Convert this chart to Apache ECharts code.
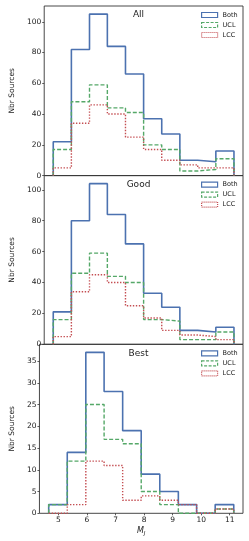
<!DOCTYPE html>
<html>
<head>
<meta charset="utf-8">
<script src="https://cdn.jsdelivr.net/npm/echarts@6/dist/echarts.min.js"></script>
<style>
html,body{margin:0;padding:0;background:#fff;}
#c{width:249px;height:541px;}
</style>
</head>
<body>
<div id="c"></div>
<script>
// Bin edges (M_J) and counts
var binEdges = [4.66, 5.31, 5.96, 6.60, 7.25, 7.90, 8.55, 9.20, 9.84, 10.49, 11.14];

var panelTitles = ['All', 'Good', 'Best'];
var seriesNames = ['Both', 'UCL', 'LCC'];

var allBoth = [22, 82, 105, 84, 66, 37, 27, 10, 9, 16];
var allUCL  = [17, 48, 59, 44, 41, 20, 17, 3, 4, 11];
var allLCC  = [5, 34, 46, 40, 25, 17, 10, 7, 5, 5];

var goodBoth = [21, 80, 104, 84, 65, 33, 24, 9, 8, 11];
var goodUCL  = [16, 46, 59, 44, 40, 16, 15, 3, 3, 8];
var goodLCC  = [5, 34, 45, 40, 25, 17, 9, 6, 5, 3];

var bestBoth = [2, 14, 37, 28, 19, 9, 5, 2, 0, 2];
var bestUCL  = [2, 12, 25, 17, 16, 5, 2, 0, 0, 1];
var bestLCC  = [0, 2, 12, 11, 3, 4, 3, 2, 0, 1];

var yTicksCount = [0, 20, 40, 60, 80, 100];
var yTicksBest = [0, 5, 10, 15, 20, 25, 30, 35];
var xTicks = [5, 6, 7, 8, 9, 10, 11];

var panelData = [
  [allBoth, allUCL, allLCC],
  [goodBoth, goodUCL, goodLCC],
  [bestBoth, bestUCL, bestLCC]
];
var panelYTicks = [yTicksCount, yTicksCount, yTicksBest];
var panelYMax = [110.25, 109.2, 38.85];

var colors = ['#4c72b0', '#55a868', '#c44e52'];
var lineTypes = ['solid', [4, 2], [1.4, 1.6]];
var FONT = 'DejaVu Sans';
var TXT = '#222';

var gridTops = [6, 175.6, 344.3];
var gridHeights = [169.6, 168.7, 169.0];
var gridLeft = 34, gridRight = 6;
var panelCenterX = gridLeft + (249 - gridLeft - gridRight) / 2;

function stepPath(edges, counts) {
  var pts = [[edges[0], 0]];
  for (var i = 0; i < counts.length; i++) {
    pts.push([edges[i], counts[i]]);
    pts.push([edges[i + 1], counts[i]]);
  }
  pts.push([edges[edges.length - 1], 0]);
  return pts;
}

var grids = [], xAxes = [], yAxes = [], series = [], legends = [], graphics = [];
var xMin = binEdges[0] - 0.05 * (binEdges[10] - binEdges[0]);
var xMax = binEdges[10] + 0.05 * (binEdges[10] - binEdges[0]);

for (var p = 0; p < 3; p++) {
  grids.push({
    left: gridLeft, right: gridRight, top: gridTops[p], height: gridHeights[p],
    show: true, borderColor: '#333', borderWidth: 0.9, backgroundColor: 'transparent'
  });
  var isBottom = p === 2;
  xAxes.push({
    type: 'value', gridIndex: p, min: xMin, max: xMax,
    axisLine: {show: false},
    splitLine: {show: false},
    axisTick: {show: isBottom, length: 2, lineStyle: {color: '#333', width: 0.8}, customValues: xTicks},
    axisLabel: {show: isBottom, customValues: xTicks, fontSize: 7.5, fontFamily: FONT, color: TXT, margin: 3},
    name: isBottom ? '{i|M}{s|J}' : '',
    nameLocation: 'middle', nameGap: 13,
    nameTextStyle: {
      color: TXT, fontFamily: FONT,
      rich: {
        i: {fontStyle: 'italic', fontSize: 8, fontFamily: FONT, color: TXT},
        s: {fontStyle: 'italic', fontSize: 5.5, fontFamily: FONT, color: TXT, padding: [4, 0, 0, 0]}
      }
    }
  });
  yAxes.push({
    type: 'value', gridIndex: p, min: 0, max: panelYMax[p],
    axisLine: {show: false},
    splitLine: {show: false},
    axisTick: {show: true, length: 2, lineStyle: {color: '#333', width: 0.8}, customValues: panelYTicks[p]},
    axisLabel: {customValues: panelYTicks[p], fontSize: 7.5, fontFamily: FONT, color: TXT, margin: 3},
    name: 'Nbr Sources', nameLocation: 'middle', nameGap: 22, nameRotate: 90,
    nameTextStyle: {fontSize: 7.5, fontFamily: FONT, color: TXT}
  });
  for (var s = 0; s < 3; s++) {
    series.push({
      type: 'line', name: seriesNames[s], xAxisIndex: p, yAxisIndex: p,
      data: stepPath(binEdges, panelData[p][s]),
      showSymbol: false, symbol: 'none', animation: false,
      lineStyle: {color: colors[s], width: s === 0 ? 1.6 : 1.4, type: lineTypes[s]},
      itemStyle: {color: colors[s]},
      z: 2 + s
    });
  }
  legends.push({
    orient: 'vertical', left: 201, top: gridTops[p] + 5, padding: 0,
    itemWidth: 16, itemHeight: 5, itemGap: 2, selectedMode: false,
    textStyle: {fontSize: 6.5, fontFamily: FONT, color: TXT, lineHeight: 8},
    data: seriesNames.map(function (n, k) {
      return {
        name: n, icon: 'rect',
        itemStyle: {color: 'transparent', borderColor: colors[k], borderWidth: 1.2, borderType: k === 0 ? 'solid' : (k === 1 ? [3, 1.5] : [1, 1])}
      };
    })
  });
  graphics.push({
    type: 'text', x: panelCenterX, y: gridTops[p] + 4.5,
    style: {text: panelTitles[p], fontSize: 9, fontFamily: FONT, fill: TXT, align: 'center', verticalAlign: 'top'}
  });
}

var chart = echarts.init(document.getElementById('c'), null, {renderer: 'canvas'});
chart.setOption({
  animation: false,
  backgroundColor: '#fff',
  grid: grids, xAxis: xAxes, yAxis: yAxes, series: series, legend: legends, graphic: graphics
});
</script>
</body>
</html>
